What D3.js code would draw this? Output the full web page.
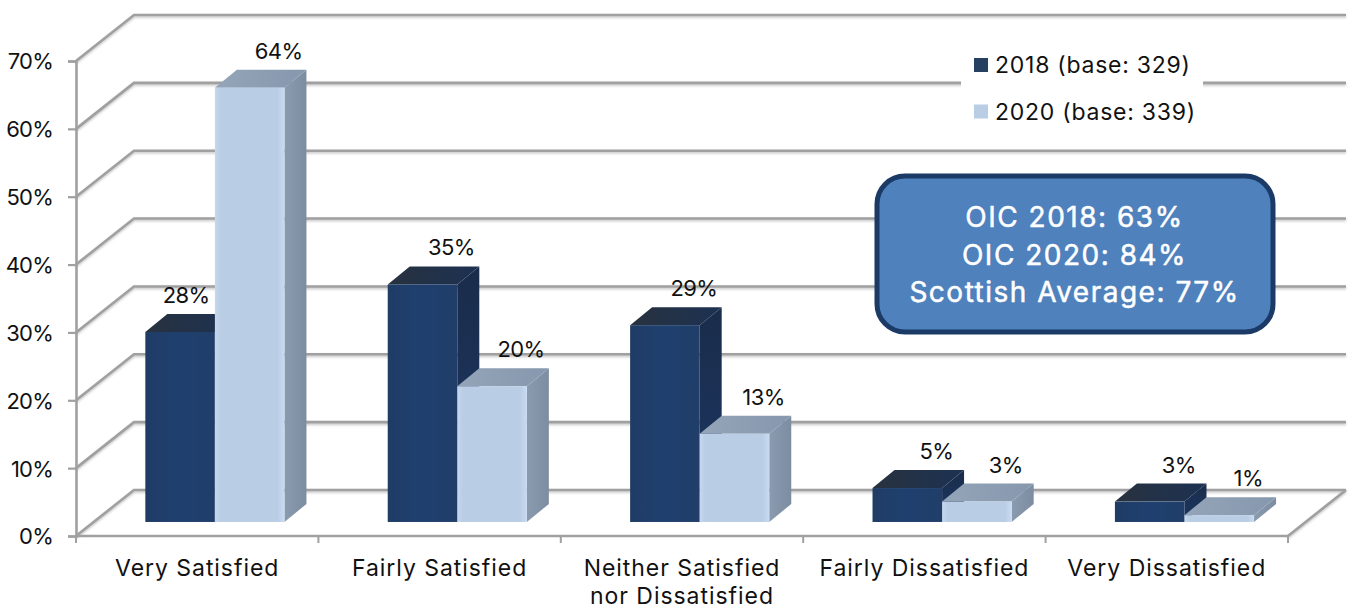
<!DOCTYPE html>
<html>
<head>
<meta charset="utf-8">
<script src="https://cdn.jsdelivr.net/npm/d3@7/dist/d3.min.js"></script>
<style>
html, body { margin: 0; padding: 0; background: #fff; }
svg { display: block; }
text { font-family: Inter, "Noto Sans", sans-serif; fill: #111; }
</style>
</head>
<body>
<svg id="chart" width="1354" height="610"></svg>
<script>
// Survey responses, percent of respondents
const categories = ["Very Satisfied", "Fairly Satisfied", "Neither Satisfied\nnor Dissatisfied", "Fairly Dissatisfied", "Very Dissatisfied"];
const series2018 = [28, 35, 29, 5, 3];
const series2020 = [64, 20, 13, 3, 1];
const seriesNames = ["2018 (base: 329)", "2020 (base: 339)"];
const yTicks = [0, 10, 20, 30, 40, 50, 60, 70];
const calloutLines = ["OIC 2018: 63%", "OIC 2020: 84%", "Scottish Average: 77%"];

const svg = d3.select("#chart");

// Oblique projection of the 3D plot box
const wallDX = 58, wallDY = -46;       // floor depth
const barDepthStart = 0.305;           // bars sit part way into the floor
const barDX = 22, barDY = -18;         // depth of each column

const x = d3.scaleBand().domain(categories).range([76, 1288]);
const y = d3.scaleLinear().domain([0, 70]).range([536, 61]);
const grid = "#a0a0a0";

const defs = svg.append("defs");
function hGrad(id, stops, vertical) {
  const g = defs.append("linearGradient").attr("id", id);
  if (vertical) g.attr("x1", 0).attr("y1", 0).attr("x2", 0).attr("y2", 1);
  stops.forEach(([o, c]) => g.append("stop").attr("offset", o).attr("stop-color", c));
}
hGrad("front2018", [[0, "#1f3c65"], [0.5, "#1f406f"], [1, "#203e68"]]);
hGrad("front2020", [[0, "#c6d8ee"], [0.08, "#b9cde5"], [0.9, "#b9cde5"], [1, "#c8dbf1"]]);
hGrad("side2018", [[0, "#1a2c4a"], [1, "#1c3764"]], true);
hGrad("side2020", [[0, "#8a9bb0"], [1, "#7c8da2"]]);
hGrad("top2018", [[0, "#28323f"], [1, "#1c3152"]]);
hGrad("top2020", [[0, "#94a4b9"], [1, "#8698ad"]]);
defs.append("filter").attr("id", "lineShade").attr("x", "-5%").attr("y", "-5%").attr("width", "110%").attr("height", "110%")
  .append("feDropShadow").attr("dx", 0).attr("dy", 1.5).attr("stdDeviation", 0.8).attr("flood-color", "#c4c4c4");

// Back wall and side wall gridlines
const gridG = svg.append("g").attr("fill", "none").attr("stroke", grid).attr("stroke-width", 2.6)
  .attr("filter", "url(#lineShade)");
yTicks.forEach(t => {
  const p = d3.path();
  p.moveTo(x.range()[0], y(t));
  p.lineTo(x.range()[0] + wallDX, y(t) + wallDY);
  p.lineTo(x.range()[1] + wallDX, y(t) + wallDY);
  gridG.append("path").attr("d", p.toString());
});

// Floor edge on the right
gridG.append("line")
  .attr("x1", x.range()[1]).attr("y1", y(0))
  .attr("x2", x.range()[1] + wallDX).attr("y2", y(0) + wallDY);

// Axes
const yAxis = d3.axisLeft(y).tickValues(yTicks).tickFormat(d => d + "%").tickSize(8).tickPadding(15);
const yG = svg.append("g").attr("transform", `translate(${x.range()[0]},0)`).call(yAxis);
yG.select(".domain").attr("stroke", grid).attr("stroke-width", 2.6);
yG.selectAll("line").attr("stroke", grid).attr("stroke-width", 2.2);
yG.selectAll("text").attr("font-size", 22).attr("letter-spacing", -0.8).attr("fill", "#111").attr("dy", "0.36em")
  .style("font-family", 'Inter, sans-serif');

const xAxisLine = svg.append("g").attr("transform", `translate(0,${y(0)})`);
xAxisLine.append("line").attr("x1", x.range()[0]).attr("x2", x.range()[1])
  .attr("stroke", grid).attr("stroke-width", 2.6);
const xEdges = categories.map(c => x(c)).concat(x.range()[1]);
xAxisLine.selectAll(".tick").data(xEdges).join("line")
  .attr("x1", d => d).attr("x2", d => d).attr("y1", 0).attr("y2", 7)
  .attr("stroke", grid).attr("stroke-width", 2);

const catLabels = svg.append("g");
categories.forEach(c => {
  const t = catLabels.append("text").attr("text-anchor", "middle").attr("font-size", 23).attr("letter-spacing", 0.95)
    .attr("x", x(c) + x.bandwidth() / 2).attr("y", 575.5);
  c.split("\n").forEach((s, i) => t.append("tspan")
    .attr("x", x(c) + x.bandwidth() / 2).attr("dy", i ? 28.5 : 0).text(s));
});

// Columns: front face, top face, right face
const floorX = wallDX * barDepthStart, floorY = wallDY * barDepthStart;
const colW = x.bandwidth() * 0.287;
function column(g, cat, idx, value, key) {
  const left = x(cat) + x.bandwidth() / 2 + floorX + (idx - 1) * colW;
  const right = left + colW;
  const base = y(0) + floorY;
  const top = base - (y(0) - y(value));
  const poly = pts => pts.map(p => p.join(",")).join(" ");
  g.append("polygon").attr("fill", `url(#side${key})`)
    .attr("points", poly([[right, base], [right + barDX, base + barDY], [right + barDX, top + barDY], [right, top]]));
  g.append("polygon").attr("fill", `url(#top${key})`)
    .attr("points", poly([[left, top], [left + barDX, top + barDY], [right + barDX, top + barDY], [right, top]]));
  g.append("rect").attr("fill", `url(#front${key})`)
    .attr("x", left).attr("y", top).attr("width", colW).attr("height", base - top);
  return { cx: (left + right) / 2, top: top + barDY };
}

const labelG = [];
const bars = svg.append("g");
categories.forEach((c, i) => {
  const g = bars.append("g");
  const a = column(g, c, 0, series2018[i], "2018");
  const b = column(g, c, 1, series2020[i], "2020");
  labelG.push([a, series2018[i], i], [b, series2020[i], i]);
});

// Value labels above each column; the first sits left of its taller neighbour
svg.append("g").selectAll("text").data(labelG).join("text")
  .attr("text-anchor", "middle").attr("font-size", 22).attr("letter-spacing", -0.6)
  .attr("x", (d, i) => d[0].cx + (i === 0 ? 6 : 29))
  .attr("y", d => d[0].top - 11)
  .text(d => d[1] + "%");

// Legend
const legend = svg.append("g");
legend.append("rect").attr("x", 961).attr("y", 40).attr("width", 242).attr("height", 86).attr("fill", "#fff");
const legendColor = d3.scaleOrdinal().domain(seriesNames).range(["#254061", "#b9cde5"]);
seriesNames.forEach((n, i) => {
  legend.append("rect").attr("x", 974).attr("y", 58 + i * 46.5).attr("width", 14).attr("height", 14).attr("fill", legendColor(n));
  legend.append("text").attr("x", 995).attr("y", 73 + i * 46.5).attr("font-size", 23).attr("letter-spacing", 0.75).text(n);
});

// Callout
const box = svg.append("g");
box.append("rect").attr("x", 877).attr("y", 176).attr("width", 396).attr("height", 156).attr("rx", 28)
  .attr("fill", "#4f81bd").attr("stroke", "#1b3a66").attr("stroke-width", 5);
calloutLines.forEach((l, i) => {
  box.append("text").attr("x", 1074.5).attr("y", 227 + i * 37.5).attr("text-anchor", "middle")
    .attr("font-size", 28).attr("letter-spacing", 1.5).style("fill", "#fff")
    .style("stroke", "#fff").style("stroke-width", 0.5).text(l);
});
</script>
</body>
</html>
